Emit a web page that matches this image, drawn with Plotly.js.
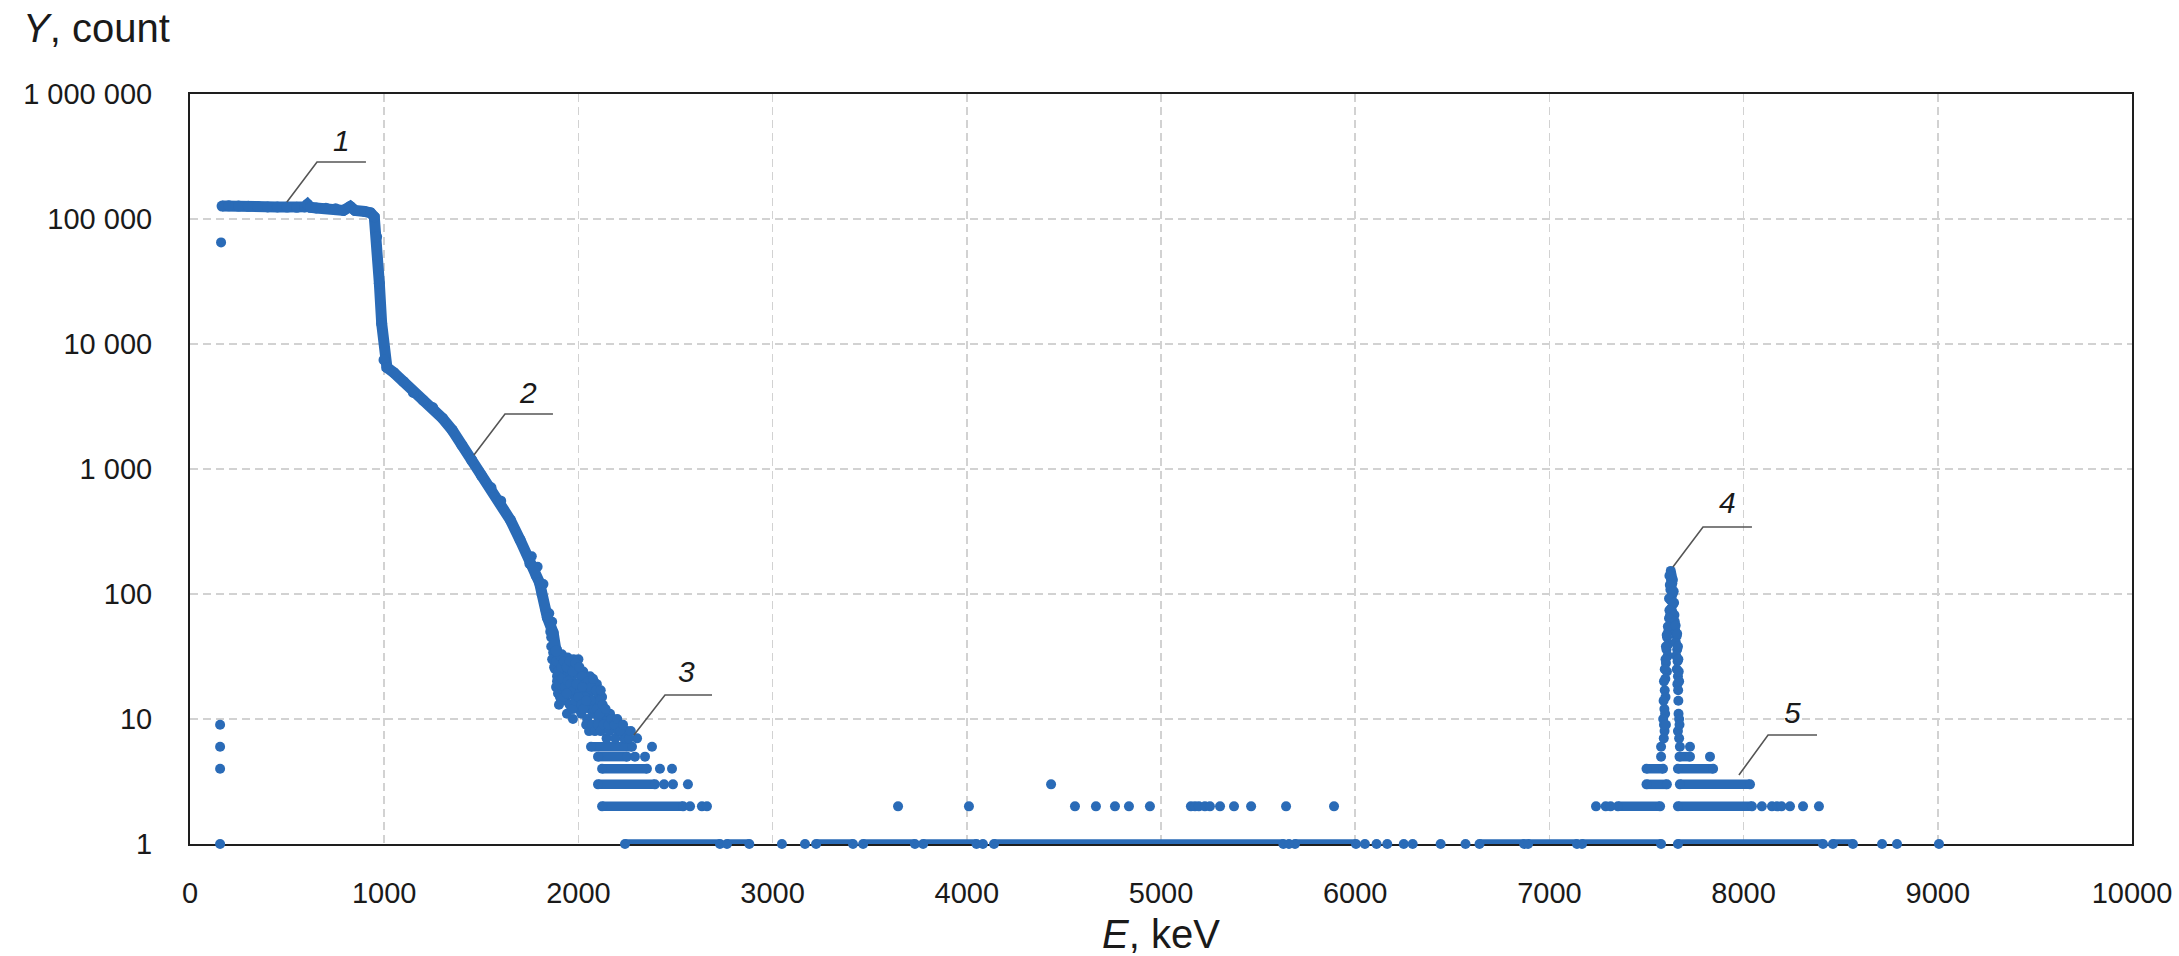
<!DOCTYPE html>
<html>
<head>
<meta charset="utf-8">
<script src="https://cdn.plot.ly/plotly-3.0.1.min.js"></script>
<style>
  html, body { margin: 0; padding: 0; background: #ffffff; }
  #chart { width: 2179px; height: 956px; }
</style>
</head>
<body>
<div id="chart"></div>
<script>
// ---------------- DATA ----------------
// Continuous part of the spectrum (energy keV, count)
var curveE = [165, 200, 250, 300, 350, 400, 450, 500, 550, 590, 605, 620, 650, 700, 750, 790, 825, 850, 900, 930, 949, 961, 975, 987, 999, 1014, 1050, 1100, 1150, 1200, 1250, 1300, 1350, 1400, 1450, 1500, 1550, 1600, 1650, 1700, 1750, 1800, 1840, 1870, 1885];
var curveY = [127000, 127500, 127000, 126500, 126000, 125000, 125000, 124500, 124000, 125000, 131000, 124000, 122500, 122000, 121000, 117000, 126000, 117000, 115000, 112000, 104000, 72000, 30600, 14600, 7450, 6500, 5900, 5000, 4100, 3550, 3100, 2550, 2050, 1550, 1180, 890, 710, 555, 390, 270, 175, 123, 65, 49, 35];

// Scatter around the steep end of the continuous part
var bandE = [1760, 1780, 1790, 1810, 1820, 1830, 1850, 1855, 1860, 1865];
var bandY = [200, 140, 165, 100, 120, 75, 70, 50, 45, 60];

// First channel points
var firstE = [160, 155, 155, 155, 155];
var firstY = [65000, 9, 6, 4, 1];

// Scattered points of the 1860-2300 keV tail
var clumpE = [1860, 1870, 1880, 1890, 1900, 1915, 1930, 1945, 1960, 1975, 2000,
              1880, 1890, 1900, 1910, 1920, 1935, 1950, 1965, 1980, 1995, 2010, 2025, 2040, 2060, 2080, 2095,
              1885, 1895, 1905, 1920, 1935, 1950, 1965, 1980, 1995, 2010, 2025, 2040, 2055, 2070, 2085, 2100, 2122,
              1900, 1941, 1972, 2000, 2015, 2030, 2045, 2060, 2075, 2090, 2105, 2120, 2135, 2150, 2163, 2178,
              2040, 2055, 2070, 2085, 2100, 2115, 2130, 2145, 2160, 2175, 2190, 2205, 2220, 2235, 2250, 2302,
              1865, 1875, 1885, 1895, 1905, 1912, 1925, 1940, 1955, 1970, 1985, 2005, 2020, 2035, 2050, 2065, 2075, 2090, 2110, 2115,
              1890, 1900, 1915, 1930, 1945, 1960, 1975, 1990, 2005, 2020, 2035, 2050, 2065, 2080, 2095, 2110, 2125, 2140, 2155, 2170, 2185, 2200, 2215, 2230, 2245, 2260, 2270,
              1910, 1925, 1940, 1955, 1970, 1985, 2000, 2015, 2025, 2040];
var clumpY = [38, 34, 31, 36, 29, 33, 28, 31, 27, 30, 30,
              25, 22, 27, 20, 24, 22, 25, 21, 26, 23, 20, 24, 21, 22, 20, 19,
              18, 16, 15, 17, 14, 18, 16, 15, 17, 14, 16, 18, 15, 17, 14, 16, 15,
              13, 11, 10, 12, 11, 13, 10, 12, 11, 13, 10, 12, 11, 10, 11, 10,
              9, 8, 9, 8, 9, 8, 9, 7, 8, 9, 7, 8, 9, 7, 8, 7,
              30, 26, 29, 24, 32, 26, 29, 26, 29, 24, 28, 26, 22, 19, 20, 18, 21, 17, 14, 17,
              20, 19, 21, 18, 20, 19, 17, 19, 16, 18, 15, 13, 14, 12, 12, 11, 13, 12, 9, 10, 9, 10, 8, 9, 7, 7, 8,
              14, 15, 16, 13, 12, 14, 15, 13, 12, 14];

// Peak near 7630 keV
var peakE = [7625, 7628, 7631, 7626, 7633, 7629, 7623, 7635, 7630, 7624, 7637, 7627, 7633, 7621, 7639, 7626, 7631,
             7612, 7606, 7614, 7603, 7609, 7600, 7605, 7597, 7594, 7598, 7592, 7596, 7590, 7593, 7589,
             7648, 7655, 7651, 7658, 7653, 7660, 7656, 7662, 7659, 7663, 7665, 7662, 7668,
             7575, 7672, 7724, 7575, 7827,
             7618, 7636, 7620, 7640, 7616, 7642, 7618, 7644, 7616, 7646, 7610, 7650, 7604, 7658,
             7600, 7662, 7598, 7664, 7594, 7666, 7590, 7668, 7588, 7664, 7586, 7668, 7600, 7670];
var peakY = [153, 146, 138, 130, 122, 115, 108, 101, 95, 89, 83, 77, 72, 67, 62, 58, 54,
             50, 45, 40, 36, 32, 28, 24, 21, 17, 15, 12, 11, 9, 8, 7,
             51, 46, 41, 36, 32, 29, 25, 22, 19, 17, 11, 8, 7,
             6, 6, 6, 5, 5,
             140, 130, 118, 105, 92, 85, 74, 68, 64, 60, 55, 56, 47, 48,
             38, 38, 30, 30, 25, 24, 20, 20, 14, 14, 10, 10, 9, 9];

// Isolated low-count points
var sparseE = [2379, 2291, 2343, 2420, 2482, 2441, 2487, 2564, 2575, 2636, 2662,
               3646, 4011, 4434, 4557, 4665, 4763, 4835, 4943, 5154, 5175, 5195, 5226, 5252, 5304, 5376, 5464, 5644, 5891,
               7240, 7290, 7315, 8094, 8146, 8172, 8195, 8239, 8306, 8388,
               3048, 3167, 4083, 5659, 6050, 6110, 6165, 6250, 6296, 6440, 6568, 8713, 8790, 9006];
var sparseY = [6, 5, 5, 4, 4, 3, 3, 3, 2, 2, 2,
               2, 2, 3, 2, 2, 2, 2, 2, 2, 2, 2, 2, 2, 2, 2, 2, 2, 2,
               2, 2, 2, 2, 2, 2, 2, 2, 2, 2,
               1, 1, 1, 1, 1, 1, 1, 1, 1, 1, 1, 1, 1, 1];

// Runs of adjacent channels with the same count (start keV, end keV, count)
var runStart = [2065, 2101, 2122, 2101, 2122, 2240, 2765, 3224, 3466, 3775, 4140, 5690, 6640, 6890, 7168, 7662, 8460,
                7670, 7500, 7662, 7500, 7672, 7353, 7662];
var runEnd   = [2276, 2250, 2353, 2394, 2539, 2729, 2880, 3414, 3733, 4050, 5630, 6004, 6870, 7142, 7575, 8409, 8563,
                7724, 7585, 7843, 7605, 8033, 7570, 8043];
var runY     = [6, 5, 4, 3, 2, 1, 1, 1, 1, 1, 1, 1, 1, 1, 1, 1, 1,
                5, 4, 4, 3, 3, 2, 2];

// Axis ticks
var xTickVals = [0, 1000, 2000, 3000, 4000, 5000, 6000, 7000, 8000, 9000, 10000];
var xTickText = ['0', '1000', '2000', '3000', '4000', '5000', '6000', '7000', '8000', '9000', '10000'];
var yTickVals = [1, 10, 100, 1000, 10000, 100000, 1000000];
var yTickText = ['1', '10', '100', '1 000', '10 000', '100 000', '1 000 000'];

// Numbered callouts: label position and leader line (curve point, elbow, end)
var labelText = ['1', '2', '3', '4', '5'];
var labelE = [778, 1740, 2559, 7915, 8254];
var labelY = [428500, 4130, 23.8, 544.5, 11.17];
var leaderE = [[499, 654, 906], [1462, 1622, 1869], [2286, 2446, 2688], [7636, 7791, 8043], [7976, 8126, 8378]];
var leaderY = [[136800, 285800, 285800], [1294, 2754, 2754], [7.45, 15.56, 15.56], [164.4, 343.6, 343.6], [3.56, 7.45, 7.45]];

// ---------------- BUILD ----------------
var BLUE = '#2a6bb7';
var FONT = 'Liberation Sans, Arial, Helvetica, sans-serif';
var MS = 10;

var runX = [], runYY = [];
for (var i = 0; i < runStart.length; i++) {
  runX.push(runStart[i], runEnd[i], null);
  runYY.push(runY[i], runY[i], null);
}

var traces = [];
traces.push({
  type: 'scatter', mode: 'lines+markers', x: runX, y: runYY,
  line: {color: BLUE, width: 9.5}, marker: {color: BLUE, size: MS},
  connectgaps: false, cliponaxis: false, hoverinfo: 'skip'
});
traces.push({
  type: 'scatter', mode: 'markers',
  x: firstE.concat(bandE, clumpE, peakE, sparseE),
  y: firstY.concat(bandY, clumpY, peakY, sparseY),
  marker: {color: BLUE, size: MS}, cliponaxis: false, hoverinfo: 'x+y'
});
traces.push({
  type: 'scatter', mode: 'lines+markers', x: curveE, y: curveY,
  line: {color: BLUE, width: 11}, marker: {color: BLUE, size: 11}, cliponaxis: false, hoverinfo: 'x+y'
});
for (var k = 0; k < leaderE.length; k++) {
  traces.push({
    type: 'scatter', mode: 'lines', x: leaderE[k], y: leaderY[k],
    line: {color: '#555555', width: 1.6}, hoverinfo: 'skip'
  });
}

var annotations = [];
for (var j = 0; j < labelText.length; j++) {
  annotations.push({
    x: labelE[j], y: Math.log10(labelY[j]), xref: 'x', yref: 'y',
    text: '<i>' + labelText[j] + '</i>', showarrow: false,
    font: {family: FONT, size: 30, color: '#1a1a1a'}
  });
}
annotations.push({
  xref: 'paper', yref: 'paper', x: -0.087, y: 1.088, xanchor: 'left', yanchor: 'middle',
  text: '<i>Y</i>, count', showarrow: false,
  font: {family: FONT, size: 40, color: '#1a1a1a'}
});

var axisCommon = {
  showgrid: true, gridcolor: '#d2d2d2', gridwidth: 1.5, griddash: '8px,5px',
  showline: true, linecolor: '#1e1e1e', linewidth: 2, mirror: true,
  layer: 'below traces',
  zeroline: false, ticks: '', tickfont: {family: FONT, size: 29, color: '#1a1a1a'}
};

var layout = {
  width: 2179, height: 956,
  margin: {l: 190, r: 47, t: 94, b: 112},
  paper_bgcolor: '#ffffff', plot_bgcolor: '#ffffff',
  showlegend: false,
  font: {family: FONT, color: '#1a1a1a'},
  xaxis: Object.assign({}, axisCommon, {
    range: [0, 10000], tickmode: 'array', tickvals: xTickVals, ticktext: xTickText,
    ticklabelstandoff: 22,
    title: {text: '<i>E</i>, keV', font: {family: FONT, size: 40, color: '#1a1a1a'}, standoff: 14}
  }),
  yaxis: Object.assign({}, axisCommon, {
    type: 'log', range: [0, 6], tickmode: 'array', tickvals: yTickVals, ticktext: yTickText,
    ticklabelstandoff: 30
  }),
  annotations: annotations
};

Plotly.newPlot('chart', traces, layout, {staticPlot: true, displayModeBar: false});
</script>
</body>
</html>
